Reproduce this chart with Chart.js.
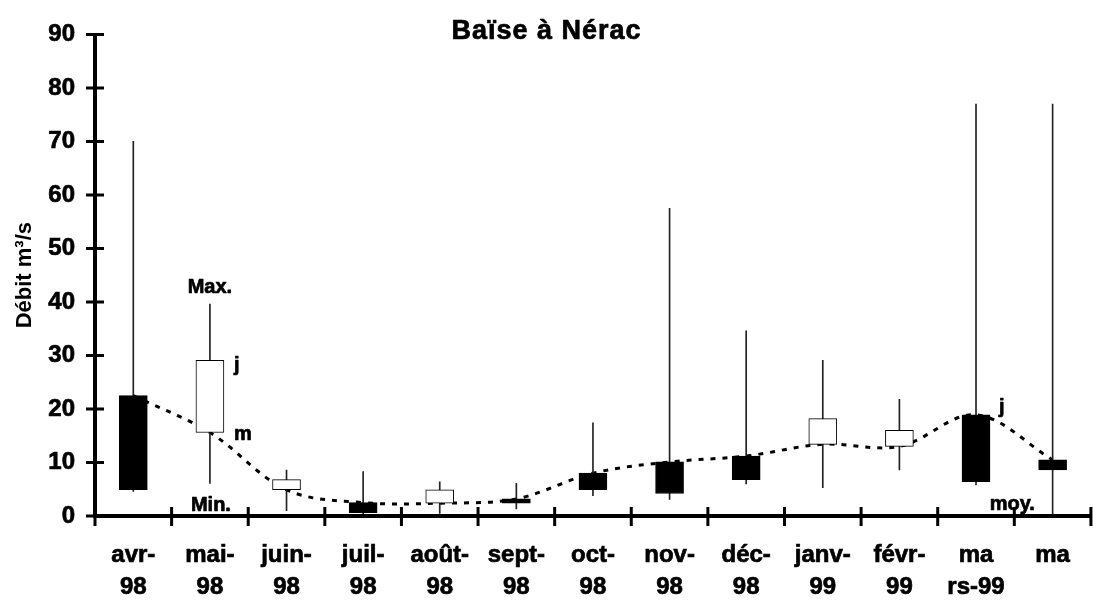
<!DOCTYPE html>
<html>
<head>
<meta charset="utf-8">
<script src="https://cdn.jsdelivr.net/npm/chart.js@4.4.1/dist/chart.umd.min.js"></script>
<style>
  html, body { margin: 0; padding: 0; background: #fff; }
  #wrap { width: 1093px; height: 603px; position: relative; }
</style>
</head>
<body>
<div id="wrap"><canvas id="chart"></canvas></div>
<script>
// Monthly flows of the Baïse at Nérac (m3/s)
const months = [['avr-', '98'], ['mai-', '98'], ['juin-', '98'], ['juil-', '98'], ['août-', '98'],
  ['sept-', '98'], ['oct-', '98'], ['nov-', '98'], ['déc-', '98'], ['janv-', '99'], ['févr-', '99'],
  ['ma', 'rs-99'], ['ma']];
const moyenne = [22.5, 15.6, 4.9, 2.5, 2.4, 3.2, 8.0, 10.1, 11.2, 13.4, 13.0, 18.9, 10.5];
const jour = [4.9, 29.1, 6.8, 0.6, 4.9, 2.4, 4.9, 4.2, 6.8, 18.2, 16.0, 6.4, 8.6];
const maxi = [70, 39.6, 8.6, 8.3, 6.4, 6.1, 17.4, 57.5, 34.6, 29.1, 21.8, 77, 77];
const mini = [4.6, 6.1, 1.0, 0.3, 0.5, 1.3, 3.8, 3.1, 6.0, 5.3, 8.6, 5.8, 0];
const yMax = 90;
const yStep = 10;

const FONT = '"Liberation Sans", Arial, sans-serif';

// boxes: white when the day value is above the mean, black otherwise
const boxes = moyenne.map((m, i) => [Math.min(m, jour[i]), Math.max(m, jour[i])]);
const boxColors = moyenne.map((m, i) => jour[i] >= m ? '#ffffff' : '#000000');
const wicks = mini.map((lo, i) => [lo, maxi[i]]);

function boldText(ctx, text, px, py) {
  ctx.strokeText(text, px, py);
  ctx.fillText(text, px, py);
}

// axis lines with ticks crossing the axis, title and the little key labels
const decorPlugin = {
  id: 'decor',
  afterDraw(chart) {
    const { ctx, chartArea: a, scales: { x, y } } = chart;
    ctx.save();
    ctx.strokeStyle = '#000';

    ctx.lineWidth = 4;
    ctx.beginPath();
    ctx.moveTo(a.left, y.getPixelForValue(yMax) - 1);
    ctx.lineTo(a.left, a.bottom);
    ctx.moveTo(a.left - 2, a.bottom);
    ctx.lineTo(a.right, a.bottom);
    ctx.stroke();

    ctx.lineWidth = 3;
    ctx.beginPath();
    for (let v = 0; v <= yMax; v += yStep) {
      const py = y.getPixelForValue(v);
      ctx.moveTo(a.left - 9, py);
      ctx.lineTo(a.left + 9, py);
    }
    const step = x.getPixelForValue(1) - x.getPixelForValue(0);
    for (let i = 0; i <= months.length; i++) {
      const px = x.getPixelForValue(i) - step / 2;
      ctx.moveTo(px, a.bottom - 9);
      ctx.lineTo(px, a.bottom + 10);
    }
    ctx.stroke();

    // title
    ctx.fillStyle = '#000';
    ctx.lineWidth = 0.7;
    ctx.lineJoin = 'round';
    ctx.textAlign = 'center';
    ctx.textBaseline = 'alphabetic';
    ctx.font = 'bold 27px ' + FONT;
    ctx.letterSpacing = '1px';
    boldText(ctx, 'Baïse à Nérac', chart.width / 2, 39);
    ctx.letterSpacing = '0px';

    // key labels
    ctx.font = 'bold 20px ' + FONT;
    ctx.textBaseline = 'middle';
    const x1 = x.getPixelForValue(1);
    const x11 = x.getPixelForValue(11);
    ctx.textAlign = 'center';
    boldText(ctx, 'Max.', x1, y.getPixelForValue(42.7));
    boldText(ctx, 'Min.', x1 + 1, y.getPixelForValue(2.0));
    boldText(ctx, 'moy.', x11 + step / 2 - 2, y.getPixelForValue(2.2));
    ctx.textAlign = 'left';
    boldText(ctx, 'j', x1 + 24, y.getPixelForValue(28.2));
    boldText(ctx, 'm', x1 + 24, y.getPixelForValue(15.2));
    boldText(ctx, 'j', x11 + 23, y.getPixelForValue(20.3));
    ctx.restore();
  }
};

const ctx = document.getElementById('chart').getContext('2d');
new Chart(ctx, {
  type: 'bar',
  data: {
    labels: months,
    datasets: [
      {
        label: 'jour',
        data: boxes,
        backgroundColor: boxColors,
        borderColor: '#000',
        borderWidth: 1,
        borderSkipped: false,
        barThickness: 28,
        grouped: false,
        order: 1
      },
      {
        label: 'min-max',
        data: wicks,
        backgroundColor: '#222',
        borderWidth: 0,
        barThickness: 1,
        grouped: false,
        order: 2
      },
      {
        type: 'line',
        label: 'moy.',
        data: moyenne,
        borderColor: '#000',
        borderWidth: 3,
        borderDash: [5, 7],
        pointRadius: 0,
        tension: 0.35,
        fill: false,
        order: 3
      }
    ]
  },
  options: {
    responsive: true,
    maintainAspectRatio: false,
    animation: false,
    layout: { padding: { left: 0, right: 1, top: 23, bottom: 0 } },
    plugins: {
      legend: { display: false },
      tooltip: { enabled: false },
      title: { display: false }
    },
    scales: {
      x: {
        offset: true,
        grid: { display: false, drawTicks: false },
        border: { display: false },
        ticks: {
          color: '#000',
          textStrokeColor: '#000',
          textStrokeWidth: 0.7,
          font: { family: FONT, size: 24, weight: 'bold', lineHeight: 1.33 },
          padding: 23,
          maxRotation: 0,
          autoSkip: false
        },
        afterFit(scale) { scale.height = 87; }
      },
      y: {
        min: 0,
        max: yMax,
        grid: { display: false, drawTicks: false },
        border: { display: false },
        ticks: {
          stepSize: yStep,
          color: '#000',
          textStrokeColor: '#000',
          textStrokeWidth: 0.7,
          font: { family: FONT, size: 24, weight: 'bold' },
          padding: 20
        },
        title: {
          display: true,
          text: 'Débit m³/s',
          color: '#000',
          font: { family: FONT, size: 22, weight: 'bold' },
          padding: { top: 12, bottom: 0 }
        },
        afterFit(scale) { scale.width = 95; }
      }
    }
  },
  plugins: [decorPlugin]
});
</script>
</body>
</html>
